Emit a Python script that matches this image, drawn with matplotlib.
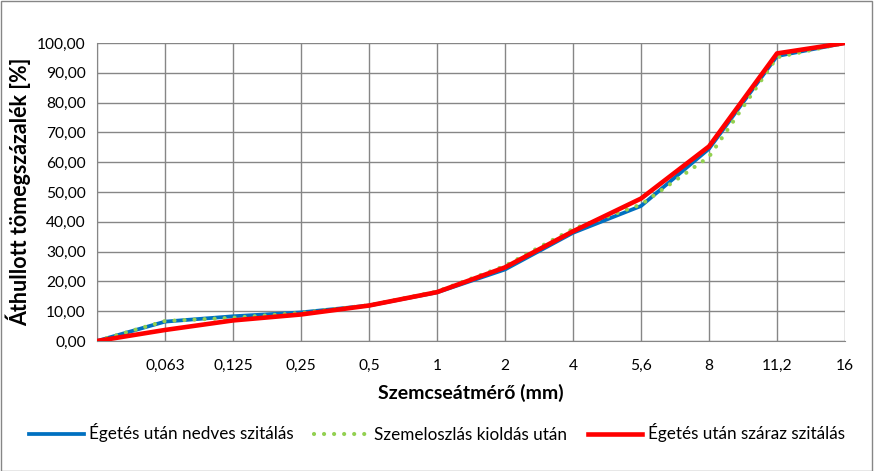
import matplotlib
matplotlib.use("Agg")
import matplotlib.pyplot as plt
from matplotlib.patches import Rectangle

plt.rcParams['font.family'] = ['Lato', 'DejaVu Sans']

# grain sizes (first position is the unlabeled origin)
sizes = ["", "0,063", "0,125", "0,25", "0,5", "1", "2", "4", "5,6", "8", "11,2", "16"]

# passing percentages
wet_sieving = [0, 6.5, 8.3, 9.6, 11.9, 16.3, 24.0, 36.3, 45.3, 64.5, 95.6, 100]
dissolution = [0, 6.7, 7.8, 9.4, 12.0, 16.6, 25.2, 37.6, 45.8, 61.8, 95.2, 100]
dry_sieving = [0, 3.7, 6.9, 8.9, 11.9, 16.4, 24.7, 36.8, 47.8, 65.3, 96.5, 100]

fig = plt.figure(figsize=(8.74, 4.71), dpi=100)
ax = fig.add_axes([97 / 874, 1 - 341 / 471, 748 / 874, 298 / 471])

x = list(range(len(sizes)))
ax.plot(x, wet_sieving, color="#0070C0", lw=2.7, label="Égetés után nedves szitálás", zorder=3)
ax.plot(x, dissolution, color="#92D050", lw=3, linestyle=(0, (0.01, 2.4)), dash_capstyle="round",
        label="Szemeloszlás kioldás után", zorder=4)
ax.plot(x, dry_sieving, color="#FF0000", lw=3.3, label="Égetés után száraz szitálás", zorder=5)

ax.set_xlim(0, len(sizes) - 1)
ax.set_ylim(0, 100)
ax.set_xticks(x)
ax.set_xticklabels(sizes)
ax.set_yticks(range(0, 101, 10))
ax.set_yticklabels([f"{v:.2f}".replace(".", ",") for v in range(0, 101, 10)])
ax.tick_params(length=0, labelsize=11.2, colors="black")
ax.tick_params(axis="x", pad=13)
ax.tick_params(axis="y", pad=8)

ax.grid(True, color="#868686", lw=1)
ax.set_axisbelow(True)
for side in ["top", "right"]:
    ax.spines[side].set_visible(False)
for side in ["left", "bottom"]:
    ax.spines[side].set_color("#868686")

ax.set_xlabel("Szemcseátmérő (mm)", fontsize=14, fontweight="bold", labelpad=8)
ax.set_ylabel("Áthullott tömegszázalék [%]", fontsize=15.5, fontweight="bold")
ax.yaxis.set_label_coords(-0.088, 0.5)

fig.legend(loc="center", bbox_to_anchor=(0.5, 1 - 433 / 471), ncol=3, frameon=False,
           fontsize=12.3, handlelength=3.2, columnspacing=1.2, handletextpad=0.3)

# outer frame of the chart
fig.patches.append(Rectangle((0.001, 0.001), 0.997, 0.997, transform=fig.transFigure,
                             fill=False, edgecolor="#868686", lw=1))

fig.savefig("out.png", dpi=100)
